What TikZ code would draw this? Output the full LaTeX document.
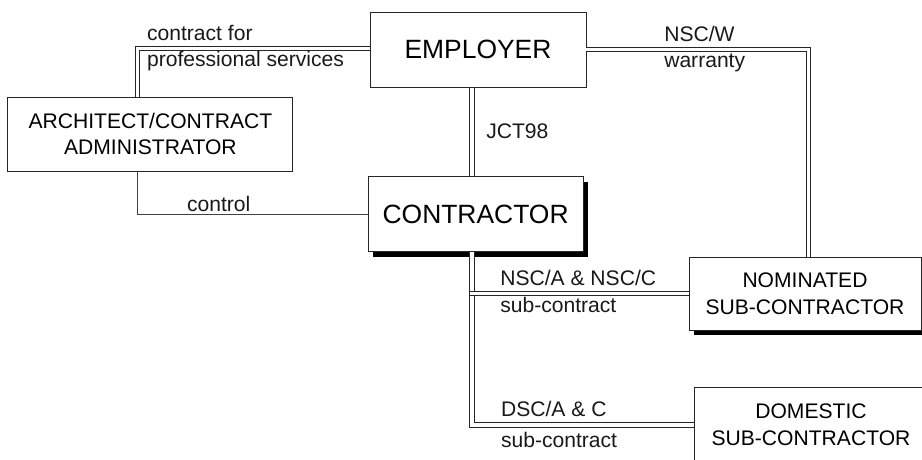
\documentclass[tikz,border=0pt]{standalone}
\usepackage{fontspec}
\setmainfont{Liberation Sans}
\usetikzlibrary{positioning,shadows}

\tikzset{
  party/.style={draw=black!85, line width=0.7pt, fill=white, align=center,
    inner sep=0pt, font=\fontsize{15}{19}\selectfont},
  bigparty/.style={party, font=\fontsize{18.8}{22}\selectfont},
  shade/.style={drop shadow={shadow xshift=3.6pt, shadow yshift=-3.6pt,
    fill=black, opacity=1}},
  dbl/.style={draw=black!85, line width=0.75pt, double=white, double distance=2.2pt},
  sgl/.style={draw=black!75, line width=0.7pt},
  lbl/.style={anchor=base west, inner sep=0pt, text=black!90,
    font=\fontsize{15}{19}\selectfont}
}

\begin{document}
\begin{tikzpicture}
  \useasboundingbox (0,0) rectangle (23.05,-11.5);

  % parties
  \node[bigparty, minimum width=5.4cm, minimum height=1.875cm] (employer) at (11.95,-1.24) {EMPLOYER};
  \node[party, minimum width=7.125cm, minimum height=1.85cm] (architect) at (3.76,-3.35) {ARCHITECT/CONTRACT\\ADMINISTRATOR};
  \node[bigparty, shade, minimum width=5.375cm, minimum height=1.875cm] (contractor) at (11.89,-5.36) {CONTRACTOR};
  \node[party, shade, minimum width=5.8cm, minimum height=1.825cm] (nominated) at (20.125,-7.34) {NOMINATED\\SUB-CONTRACTOR};
  \node[party, minimum width=5.85cm, minimum height=1.9cm] (domestic) at (20.275,-10.625) {DOMESTIC\\SUB-CONTRACTOR};

  % contracts
  \coordinate (spine) at ([xshift=-0.09cm]contractor.north);
  \coordinate (foot) at ([xshift=-0.09cm]contractor.south);
  \draw[dbl] ([yshift=0.03cm]employer.west) -| ([xshift=-0.33cm]architect.north);
  \draw[sgl] (contractor.west) -| ([xshift=-0.33cm]architect.south);
  \draw[dbl] (employer.east) -| ([xshift=0.08cm]nominated.north);
  \draw[dbl] (spine |- employer.south) -- (spine);
  \draw[dbl] (foot) |- (domestic.west);
  \coordinate (tee) at (foot |- nominated.west);
  \draw[dbl, shorten <=-1.5pt] (tee) -- (nominated.west);
  \node[party, shade, minimum width=5.8cm, minimum height=1.825cm] at (nominated) {NOMINATED\\SUB-CONTRACTOR};

  % labels
  \node[lbl] (cfor) at (3.67,-1.02) {contract for};
  \node[lbl] (prof) at (3.67,-1.67) {professional services};
  \node[lbl] (ctrl) at (4.67,-5.3) {control};
  \node[lbl] (nscw) at (16.6,-1.05) {NSC/W};
  \node[lbl] (warr) at (16.6,-1.7) {warranty};
  \node[lbl] (jct) at (12.15,-3.47) {JCT98};
  \node[lbl] (nsca) at (12.5,-7.15) {NSC/A \& NSC/C};
  \node[lbl] (nscs) at (12.5,-7.82) {sub-contract};
  \node[lbl] (dsca) at (12.52,-10.42) {DSC/A \& C};
  \node[lbl] (dscs) at (12.52,-11.2) {sub-contract};
\end{tikzpicture}
\end{document}
